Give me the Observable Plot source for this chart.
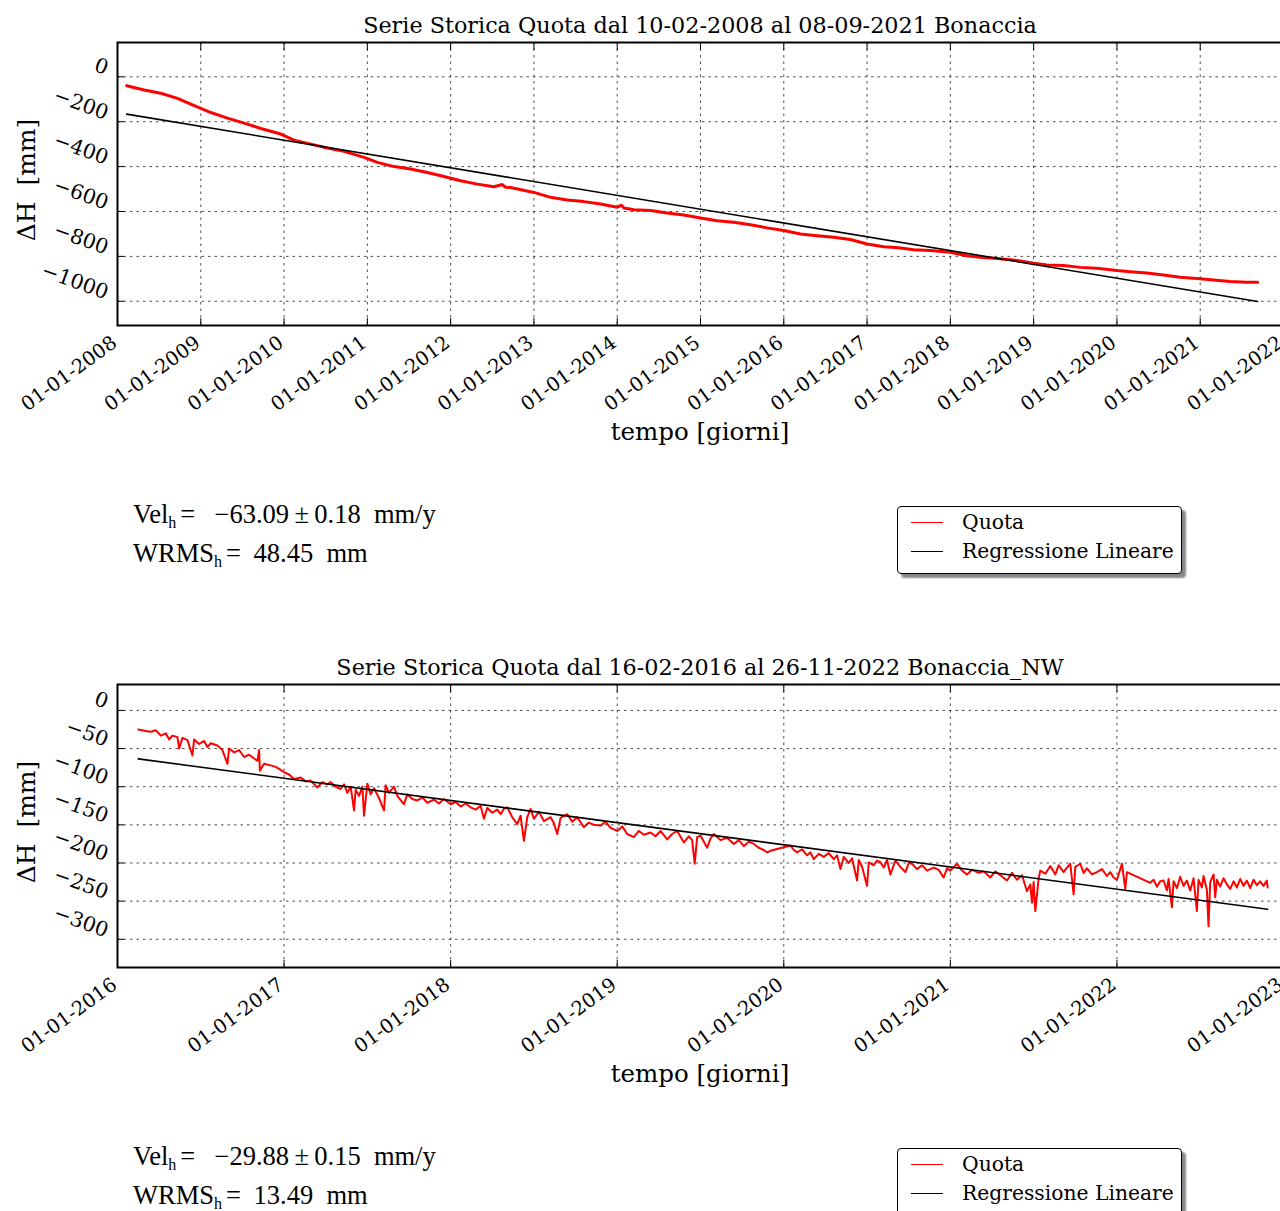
<!DOCTYPE html>
<html><head><meta charset="utf-8">
<script src="https://cdn.jsdelivr.net/npm/d3@7"></script>
<script src="https://cdn.jsdelivr.net/npm/@observablehq/plot@0.6"></script>
<style>
html,body{margin:0;padding:0;background:#fff;overflow:hidden;width:1280px;height:1211px}
#root{position:relative;width:1280px;height:1211px;overflow:hidden;font-family:"DejaVu Serif",serif;color:#000}
.abs{position:absolute;white-space:nowrap}
.title{font-size:22.3px;line-height:26px;transform:translateX(-50%)}
.xlab{font-size:24.5px;line-height:30px;transform:translateX(-50%)}
.ylab{font-size:25px;line-height:30px;transform:translate(-50%,-50%) rotate(-90deg)}
.stat{font-family:"Liberation Serif",serif;font-size:26.5px;line-height:39px}
.stat sub{font-size:16px;line-height:0;vertical-align:-5px}
.stat .eq{display:inline-block;margin:0 6px 0 4px}
.legend{border:1.5px solid #000;border-radius:4px;background:#fff;box-shadow:4px 4px 2px #888;font-size:20.3px;box-sizing:border-box}
.legend .row{position:absolute;left:0;display:flex;align-items:center}
.legend .sw{display:inline-block;width:32px;height:0;border-top:1.5px solid;margin-left:13px;margin-right:19px}
</style>
</head><body><div id="root"></div>
<script>
// ---------- Panel 1 : Bonaccia 2008-2021 ----------
const p1Title = "Serie Storica Quota dal 10-02-2008 al 08-09-2021 Bonaccia";
const p1XTicks = [2008,2009,2010,2011,2012,2013,2014,2015,2016,2017,2018,2019,2020,2021,2022];
const p1YTicks = [0,-200,-400,-600,-800,-1000];
const p1XDomain = [2008, 2022];
const p1YDomain = [-1108, 153];
const p1Years = [2008.11,2008.32,2008.52,2008.72,2008.88,2009.0,2009.12,2009.32,2009.52,2009.72,2009.96,2010.12,2010.32,2010.52,2010.72,2010.96,2011.12,2011.32,2011.52,2011.72,2011.92,2012.12,2012.32,2012.52,2012.62,2012.66,2012.72,2013.0,2013.2,2013.4,2013.6,2013.8,2014.0,2014.05,2014.08,2014.2,2014.4,2014.6,2014.8,2015.0,2015.2,2015.4,2015.6,2015.8,2016.0,2016.2,2016.4,2016.6,2016.8,2017.0,2017.2,2017.38,2017.56,2017.76,2018.0,2018.2,2018.36,2018.56,2018.76,2019.0,2019.16,2019.36,2019.56,2019.76,2020.0,2020.16,2020.36,2020.56,2020.76,2021.0,2021.16,2021.36,2021.56,2021.69];
const p1Values = [-40,-59,-73,-96,-122,-141,-159,-184,-206,-230,-255,-282,-300,-317,-332,-359,-381,-400,-411,-426,-444,-463,-478,-490,-480,-492,-493,-515,-537,-549,-556,-567,-581,-572,-584,-592,-596,-607,-616,-629,-641,-648,-659,-673,-685,-700,-708,-715,-725,-745,-757,-762,-770,-774,-782,-797,-804,-809,-816,-831,-838,-841,-849,-853,-863,-868,-874,-883,-893,-900,-905,-912,-915,-915];
const p1RegYears = [2008.11, 2021.69];
const p1RegValues = [-166, -1001];
const p1Stats = ["−63.09", "0.18", "48.45"];

// ---------- Panel 2 : Bonaccia_NW 2016-2022 ----------
const p2Title = "Serie Storica Quota dal 16-02-2016 al 26-11-2022 Bonaccia_NW";
const p2XTicks = [2016,2017,2018,2019,2020,2021,2022,2023];
const p2YTicks = [0,-50,-100,-150,-200,-250,-300];
const p2XDomain = [2016, 2023];
const p2YDomain = [-337, 34];
const p2Years = [2016.125,2016.17,2016.2,2016.23,2016.26,2016.29,2016.31,2016.33,2016.36,2016.37,2016.39,2016.42,2016.45,2016.46,2016.49,2016.52,2016.54,2016.56,2016.6,2016.63,2016.66,2016.67,2016.7,2016.73,2016.76,2016.79,2016.82,2016.84,2016.85,2016.855,2016.88,2016.92,2016.95,2016.98,2017.0,2017.03,2017.06,2017.1,2017.13,2017.16,2017.2,2017.23,2017.26,2017.28,2017.31,2017.34,2017.36,2017.38,2017.4,2017.42,2017.43,2017.45,2017.47,2017.48,2017.5,2017.52,2017.54,2017.57,2017.6,2017.61,2017.63,2017.66,2017.68,2017.72,2017.74,2017.77,2017.8,2017.83,2017.86,2017.9,2017.93,2017.96,2018.0,2018.03,2018.06,2018.09,2018.12,2018.15,2018.18,2018.2,2018.22,2018.25,2018.28,2018.3,2018.32,2018.34,2018.37,2018.4,2018.42,2018.44,2018.46,2018.48,2018.5,2018.53,2018.56,2018.6,2018.62,2018.64,2018.66,2018.7,2018.73,2018.76,2018.8,2018.83,2018.86,2018.9,2018.93,2018.96,2019.0,2019.03,2019.06,2019.1,2019.13,2019.16,2019.2,2019.23,2019.26,2019.3,2019.33,2019.36,2019.4,2019.43,2019.45,2019.465,2019.48,2019.5,2019.54,2019.56,2019.58,2019.62,2019.66,2019.7,2019.73,2019.76,2019.79,2019.82,2019.85,2019.88,2019.9,2019.92,2020.04,2020.06,2020.08,2020.11,2020.14,2020.16,2020.18,2020.21,2020.24,2020.27,2020.3,2020.32,2020.34,2020.36,2020.39,2020.41,2020.44,2020.45,2020.47,2020.5,2020.51,2020.54,2020.56,2020.58,2020.6,2020.62,2020.64,2020.67,2020.7,2020.73,2020.75,2020.77,2020.8,2020.83,2020.86,2020.9,2020.93,2020.96,2020.98,2021.0,2021.04,2021.07,2021.1,2021.13,2021.17,2021.2,2021.24,2021.27,2021.3,2021.34,2021.37,2021.4,2021.43,2021.46,2021.48,2021.49,2021.5,2021.51,2021.53,2021.54,2021.57,2021.6,2021.63,2021.65,2021.68,2021.7,2021.72,2021.74,2021.75,2021.78,2021.8,2021.82,2021.85,2021.88,2021.91,2021.94,2021.96,2021.98,2022.0,2022.03,2022.05,2022.06,2022.2,2022.22,2022.24,2022.26,2022.28,2022.3,2022.31,2022.33,2022.34,2022.36,2022.38,2022.4,2022.42,2022.44,2022.46,2022.48,2022.49,2022.51,2022.52,2022.54,2022.55,2022.56,2022.58,2022.59,2022.6,2022.62,2022.64,2022.66,2022.68,2022.7,2022.72,2022.74,2022.76,2022.78,2022.8,2022.82,2022.84,2022.86,2022.88,2022.9,2022.905];
const p2Values = [-25,-27,-28,-26,-33,-30,-38,-33,-35,-50,-36,-39,-59,-38,-44,-40,-48,-43,-46,-52,-70,-50,-55,-52,-61,-58,-63,-66,-52,-79,-70,-72,-74,-78,-81,-84,-90,-88,-93,-92,-101,-94,-97,-94,-100,-103,-97,-108,-100,-131,-104,-112,-100,-138,-96,-110,-102,-115,-131,-98,-108,-100,-112,-123,-110,-116,-118,-114,-121,-117,-122,-116,-123,-120,-126,-122,-127,-130,-125,-142,-128,-134,-130,-136,-129,-127,-140,-149,-138,-171,-140,-129,-142,-133,-145,-140,-148,-162,-141,-136,-146,-140,-153,-147,-150,-151,-146,-154,-158,-152,-162,-166,-158,-163,-160,-165,-158,-169,-162,-158,-173,-165,-170,-201,-166,-164,-180,-168,-162,-170,-167,-175,-170,-178,-172,-175,-180,-183,-186,-184,-177,-183,-186,-182,-190,-186,-195,-188,-192,-187,-195,-190,-208,-192,-200,-194,-223,-196,-205,-230,-199,-203,-197,-199,-206,-196,-215,-197,-205,-212,-200,-201,-208,-203,-210,-206,-209,-219,-207,-210,-201,-210,-215,-209,-213,-211,-219,-211,-216,-223,-213,-222,-216,-237,-228,-252,-225,-263,-220,-210,-214,-204,-215,-203,-212,-206,-201,-241,-205,-201,-213,-207,-215,-212,-208,-217,-212,-219,-222,-201,-234,-212,-226,-222,-231,-224,-223,-236,-221,-258,-224,-233,-218,-230,-223,-236,-220,-263,-222,-232,-217,-235,-283,-225,-215,-245,-222,-231,-220,-228,-234,-224,-232,-221,-230,-223,-233,-222,-229,-224,-230,-223,-232];
const p2RegYears = [2016.125, 2022.905];
const p2RegValues = [-63.5, -260.6];
const p2Stats = ["−29.88", "0.15", "13.49"];

const legendLabels = ["Quota", "Regressione Lineare"];
const legendColors = ["red", "black"];

const root = document.getElementById("root");
function el(cls, left, top, html) {
  const d = document.createElement("div");
  d.className = "abs " + cls;
  d.style.left = left + "px"; d.style.top = top + "px";
  d.innerHTML = html;
  root.appendChild(d);
  return d;
}

const yFmt = d3.format("d");

function panel(off, cfg) {
  const series = cfg.years.map((x, i) => ({x, y: cfg.values[i]}));
  const reg = cfg.regYears.map((x, i) => ({x, y: cfg.regValues[i]}));
  const grid = {stroke: "#000", strokeOpacity: 0.7, strokeDasharray: "2.5,4"};
  const chart = Plot.plot({
    width: 1283, height: 460,
    marginLeft: 117, marginRight: 0, marginTop: 42, marginBottom: 135,
    x: {domain: cfg.xDomain},
    y: {domain: cfg.yDomain},
    style: {fontFamily: "DejaVu Serif", overflow: "visible", maxWidth: "none", background: "transparent", color: "#000"},
    marks: [
      Plot.gridX(cfg.xTicks, grid),
      Plot.gridY(cfg.yTicks, grid),
      Plot.axisX(cfg.xTicks, {tickSize: -7, tickFormat: () => "", label: null}),
      Plot.axisX(cfg.xTicks, {anchor: "top", tickSize: -7, tickFormat: () => "", label: null}),
      Plot.axisX(cfg.xTicks, {tickSize: 0, tickPadding: 15, dx: -3, tickRotate: -36, fontSize: 19.5, tickFormat: d => "01-01-" + d, label: null}),
      Plot.axisY(cfg.yTicks, {tickSize: -7, tickFormat: () => "", label: null}),
      Plot.axisY(cfg.yTicks, {tickSize: 0, tickPadding: 10, dy: -8, tickRotate: 20, fontSize: 20.5, tickFormat: yFmt, label: null}),
      Plot.line(series, {x: "x", y: "y", stroke: "red", strokeWidth: cfg.sw, clip: true}),
      Plot.line(reg, {x: "x", y: "y", stroke: "black", strokeWidth: 1.6, clip: true}),
      Plot.frame({stroke: "#000", strokeWidth: 2})
    ]
  });
  chart.style.position = "absolute";
  chart.style.left = "0px";
  chart.style.top = off + "px";
  root.appendChild(chart);

  el("title", 700, off + 12, cfg.title);
  el("xlab", 700, off + 417, "tempo [giorni]");
  el("ylab", 27, off + 180, "ΔH&nbsp;&nbsp;[mm]");
  el("stat", 133, off + 495,
    `Vel<sub>h</sub><span class="eq">=</span>&nbsp;&nbsp;${cfg.stats[0]}&thinsp;±&thinsp;${cfg.stats[1]}&nbsp;&nbsp;mm/y<br>WRMS<sub>h</sub><span class="eq">=</span>&nbsp;${cfg.stats[2]}&nbsp;&nbsp;mm`);
  const lg = el("legend", 897, off + 506, "");
  lg.style.width = "285px"; lg.style.height = "68px";
  legendLabels.forEach((lab, i) => {
    const r = document.createElement("div");
    r.className = "row";
    r.style.top = (3 + i * 29) + "px";
    r.innerHTML = `<span class="sw" style="border-color:${legendColors[i]}"></span><span>${lab}</span>`;
    lg.appendChild(r);
  });
}

panel(0, {title: p1Title, xTicks: p1XTicks, yTicks: p1YTicks, xDomain: p1XDomain, yDomain: p1YDomain,
  years: p1Years, values: p1Values, regYears: p1RegYears, regValues: p1RegValues, stats: p1Stats, sw: 3});
panel(642, {title: p2Title, xTicks: p2XTicks, yTicks: p2YTicks, xDomain: p2XDomain, yDomain: p2YDomain,
  years: p2Years, values: p2Values, regYears: p2RegYears, regValues: p2RegValues, stats: p2Stats, sw: 2});
</script>
</body></html>
